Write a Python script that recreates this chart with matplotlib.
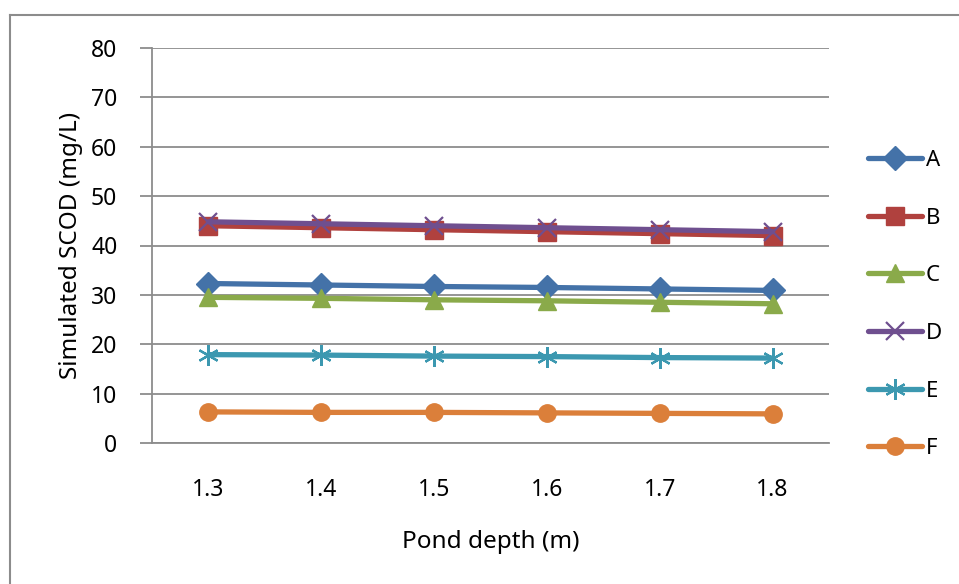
import matplotlib
matplotlib.use("Agg")
import matplotlib.pyplot as plt
from matplotlib.lines import Line2D

plt.rcParams['font.family'] = ['Noto Sans', 'DejaVu Sans']

depths = ["1.3", "1.4", "1.5", "1.6", "1.7", "1.8"]
series_a = [32.3, 32.0, 31.7, 31.5, 31.2, 30.9]
series_b = [44.0, 43.6, 43.2, 42.8, 42.4, 42.0]
series_c = [29.5, 29.3, 29.0, 28.8, 28.5, 28.2]
series_d = [44.8, 44.4, 44.0, 43.6, 43.2, 42.8]
series_e = [17.9, 17.8, 17.6, 17.5, 17.3, 17.2]
series_f = [6.3, 6.2, 6.2, 6.1, 6.0, 5.9]
names = ["A", "B", "C", "D", "E", "F"]
y_ticks = [0, 10, 20, 30, 40, 50, 60, 70, 80]

styles = [
    (series_a, "#4472a8", "D", 12, {}),
    (series_b, "#b0413e", "s", 12.5, {}),
    (series_c, "#8aaa4a", "^", 13, {}),
    (series_d, "#6f4f8f", "x", 13, {"markeredgewidth": 1.6}),
    (series_e, "#3c98b0", (6, 2, 0), 15, {"markeredgewidth": 1.6}),
    (series_f, "#db7f3a", "o", 12.5, {}),
]

fig = plt.figure(figsize=(9.59, 5.84), dpi=100)
# outer chart border
fig.add_artist(Line2D([10/959, 10/959], [0, 1 - 14.5/584], color="#8c8c8c", lw=1.5,
                      transform=fig.transFigure))
fig.add_artist(Line2D([10/959, 1], [1 - 14.5/584, 1 - 14.5/584], color="#8c8c8c", lw=1.5,
                      transform=fig.transFigure))

ax = fig.add_axes([152/959, 1 - 443/584, (829 - 152)/959, (443 - 48)/584])
x = list(range(len(depths)))
handles = []
for (vals, col, mk, ms, extra), nm in zip(styles, names):
    h, = ax.plot(x, vals, color=col, lw=3.8, marker=mk, markersize=ms,
                 markerfacecolor=col, markeredgecolor=col, label=nm,
                 solid_capstyle="round", **extra)
    handles.append(h)

ax.set_xlim(-0.5, len(depths) - 0.5)
ax.set_ylim(0, 80)
ax.set_yticks(y_ticks)
ax.set_xticks(x)
ax.set_xticklabels(depths)
ax.grid(axis="y", color="#8c8c8c", lw=1.3)
ax.set_axisbelow(True)
for s in ["top", "right"]:
    ax.spines[s].set_visible(False)
ax.spines["left"].set_color("#8c8c8c")
ax.spines["left"].set_linewidth(1.3)
ax.spines["bottom"].set_color("#8c8c8c")
ax.spines["bottom"].set_linewidth(1.3)
ax.tick_params(axis="y", length=9, width=1.3, color="#8c8c8c", labelsize=16.5, pad=16)
ax.tick_params(axis="x", length=0, labelsize=16.5, pad=25)
ax.set_xlabel("Pond depth (m)", fontsize=17.5, labelpad=20)
ax.set_ylabel("Simulated SCOD (mg/L)", fontsize=17.5, labelpad=6)

fig.legend(handles=handles, loc="upper left", bbox_to_anchor=(859/959, 1 - 141/584),
           frameon=False, fontsize=16, labelspacing=1.65, handlelength=2.45,
           handletextpad=0.17, borderaxespad=0)

fig.savefig("out.png", dpi=100)
